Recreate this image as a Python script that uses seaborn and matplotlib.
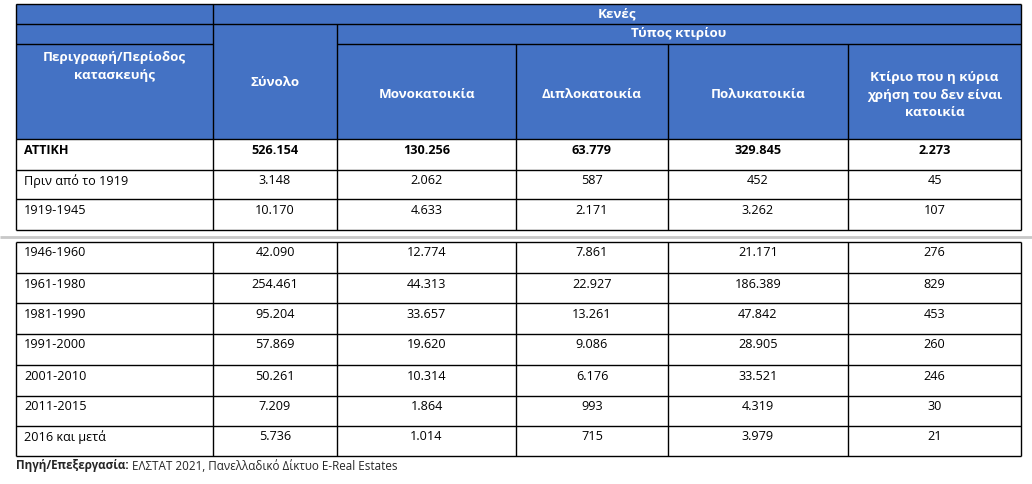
import matplotlib
matplotlib.use('Agg')
import matplotlib.pyplot as plt
from matplotlib.patches import Rectangle
import seaborn as sns

# Table data (Κενές κατοικίες, Αττική)
periods = ["ΑΤΤΙΚΗ", "Πριν από το 1919", "1919-1945", "1946-1960", "1961-1980",
           "1981-1990", "1991-2000", "2001-2010", "2011-2015", "2016 και μετά"]
synolo = [526154, 3148, 10170, 42090, 254461, 95204, 57869, 50261, 7209, 5736]
monokatoikia = [130256, 2062, 4633, 12774, 44313, 33657, 19620, 10314, 1864, 1014]
diplokatoikia = [63779, 587, 2171, 7861, 22927, 13261, 9086, 6176, 993, 715]
polykatoikia = [329845, 452, 3262, 21171, 186389, 47842, 28905, 33521, 4319, 3979]
allo_ktirio = [2273, 45, 107, 276, 829, 453, 260, 246, 30, 21]

col_headers = ["Σύνολο", "Μονοκατοικία", "Διπλοκατοικία", "Πολυκατοικία",
               "Κτίριο που η κύρια\nχρήση του δεν είναι\nκατοικία"]
first_header = "Περιγραφή/Περίοδος\nκατασκευής"
top_header = "Κενές"
sub_header = "Τύπος κτιρίου"
source_bold = "Πηγή/Επεξεργασία:"
source_text = " ΕΛΣΤΑΤ 2021, Πανελλαδικό Δίκτυο E-Real Estates"

BLUE = "#4472C4"
FS = 9.1      # body
FS_H = 9.6    # header
FS_SRC = 8.35 # source line

sns.set_style("white")
plt.rcParams['font.family'] = ['Open Sans', 'DejaVu Sans']

fig = plt.figure(figsize=(10.32, 4.84), dpi=100)
ax = fig.add_axes([0, 0, 1, 1])
ax.set_xlim(0, 1032)
ax.set_ylim(484, 0)
ax.axis('off')

xs = [16, 213, 337, 516, 668, 848, 1021]
top_rows = [139, 170, 199, 230]
bottom_rows = [242, 273, 303, 334, 365, 396, 426, 456]

def fmt(v):
    return f"{v:,}".replace(",", ".")

# header block
ax.add_patch(Rectangle((xs[0], 4), xs[-1] - xs[0], 135, facecolor=BLUE, edgecolor='none'))

lw = 1.0
def hline(y, x0, x1, c='black', w=lw):
    ax.plot([x0, x1], [y, y], color=c, lw=w, solid_capstyle='butt')

def vline(x, y0, y1):
    ax.plot([x, x], [y0, y1], color='black', lw=lw, solid_capstyle='butt')

hline(4, xs[0], xs[-1])
hline(24, xs[0], xs[-1])
hline(44, xs[0], xs[1])
hline(44, xs[2], xs[-1])
for y in top_rows:
    hline(y, xs[0], xs[-1])
vline(xs[0], 4, top_rows[-1])
vline(xs[-1], 4, top_rows[-1])
vline(xs[1], 4, top_rows[-1])
vline(xs[2], 24, top_rows[-1])
for x in xs[3:-1]:
    vline(x, 44, top_rows[-1])

# grey page-break line
hline(237, 0, 1032, c='#c8c8c8', w=2.0)

for y in bottom_rows:
    hline(y, xs[0], xs[-1])
for x in xs:
    vline(x, bottom_rows[0], bottom_rows[-1])

# header texts
ax.text((xs[1] + xs[-1]) / 2, 14, top_header, color='white', fontweight='bold',
        fontsize=FS_H, ha='center', va='center')
ax.text((xs[2] + xs[-1]) / 2, 34, sub_header, color='white', fontweight='bold',
        fontsize=FS_H, ha='center', va='center')
ax.text((xs[0] + xs[1]) / 2, 66.5, first_header, color='white', fontweight='bold',
        fontsize=FS_H, ha='center', va='center', linespacing=1.45)
ax.text((xs[1] + xs[2]) / 2, 83, col_headers[0], color='white', fontweight='bold',
        fontsize=FS_H, ha='center', va='center')
for i, h in enumerate(col_headers[1:], start=2):
    ax.text((xs[i] + xs[i + 1]) / 2, 95, h, color='white', fontweight='bold',
            fontsize=FS_H, ha='center', va='center', linespacing=1.45)

# body
row_tops = top_rows[:-1] + bottom_rows[:-1]
columns = [synolo, monokatoikia, diplokatoikia, polykatoikia, allo_ktirio]
for r, (label, top) in enumerate(zip(periods, row_tops)):
    weight = 'bold' if r == 0 else 'normal'
    yc = top + 11
    ax.text(xs[0] + 8, yc, label, fontsize=FS, fontweight=weight, ha='left', va='center',
            color='black')
    for c, col in enumerate(columns):
        ax.text((xs[c + 1] + xs[c + 2]) / 2, yc, fmt(col[r]), fontsize=FS,
                fontweight=weight, ha='center', va='center', color='black')

# source line
t = ax.text(xs[0], 466, source_bold, fontsize=FS_SRC, fontweight='bold', ha='left', va='center')
fig.canvas.draw()
bb = t.get_window_extent(renderer=fig.canvas.get_renderer())
x_end = ax.transData.inverted().transform((bb.x1, bb.y0))[0]
ax.text(x_end, 466, source_text, fontsize=FS_SRC, ha='left', va='center')

fig.savefig('out.png', dpi=100)
